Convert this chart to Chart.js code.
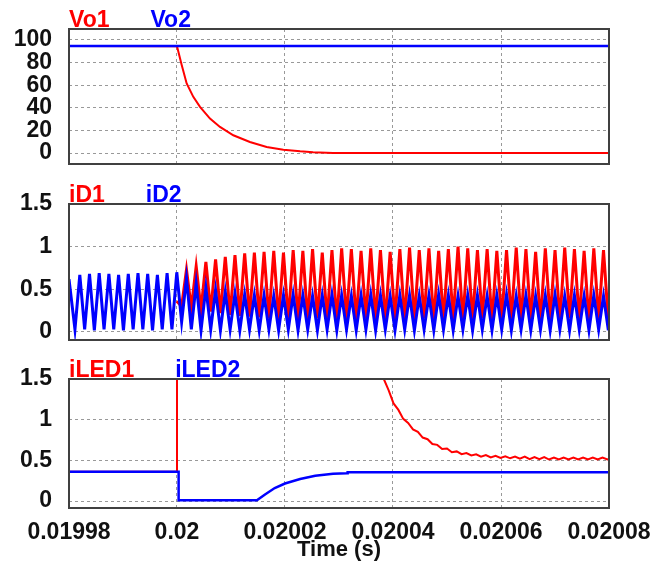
<!DOCTYPE html>
<html>
<head>
<meta charset="utf-8">
<script src="https://cdn.jsdelivr.net/npm/chart.js@4.4.1/dist/chart.umd.min.js"></script>
<style>
  html, body { margin: 0; padding: 0; background: #fff; }
  #wrap { position: relative; width: 670px; height: 562px; }
  #wrap canvas { position: absolute; left: 0; }
</style>
</head>
<body>
<div id="wrap">
  <canvas id="cVo" width="670" height="175" style="top:0"></canvas>
  <canvas id="cD" width="670" height="175" style="top:175px"></canvas>
  <canvas id="cLed" width="670" height="212" style="top:350px"></canvas>
</div>
<script>
// ---- axes ----
const timeTicks = [0.01998, 0.02, 0.02002, 0.02004, 0.02006, 0.02008];
const timeTickLabels = ['0.01998', '0.02', '0.02002', '0.02004', '0.02006', '0.02008'];
const voTicks = [0, 20, 40, 60, 80, 100];
const currentTicks = [0, 0.5, 1, 1.5];

// ---- Vo1 / Vo2 ----
const vo1Time = [0.01998, 0.02, 0.02000087, 0.02000179, 0.02000302, 0.02000426, 0.02000611, 0.02000796,
  0.02001043, 0.0200135, 0.0200166, 0.0200197, 0.0200228, 0.0200252, 0.0200289, 0.02008];
const vo1Value = [94.7, 94.5, 77.8, 61.5, 49.7, 40.8, 30.5, 23.1, 15.7, 9.8, 5.3, 3.0, 1.5, 0.6, 0, 0];
const vo2Time = [0.01998, 0.02008];
const vo2Value = [94.7, 94.7];

// ---- iD1 / iD2 : one peak and one trough per switching cycle ----
const dFirstPeak = 0.019982;
const dPeriod = 1.796e-6;
const iD2Start = 0.62;
const iD2Peaks = [0.67, 0.68, 0.69, 0.68, 0.67, 0.68, 0.69, 0.68, 0.67, 0.69,
  0.70,
  0.63, 0.57, 0.52, 0.49, 0.47, 0.45, 0.44, 0.43,
  0.43, 0.42, 0.43, 0.44, 0.43, 0.42, 0.43, 0.44, 0.43, 0.42, 0.43, 0.44,
  0.43, 0.42, 0.43, 0.43, 0.42, 0.43, 0.44, 0.43, 0.42, 0.43, 0.43, 0.42,
  0.43, 0.44, 0.42, 0.43, 0.42, 0.43, 0.44, 0.42, 0.43, 0.42, 0.43, 0.42];
const iD2Troughs = [0.03, 0.02, 0.03, 0.03, 0.02, 0.03, 0.03, 0.02, 0.03, 0.03,
  0.12,
  0.03, 0.02, 0.03, 0.02, 0.03, 0.02, 0.03, 0.02,
  0.03, 0.02, 0.03, 0.02, 0.03, 0.02, 0.03, 0.02, 0.03, 0.02, 0.03, 0.02,
  0.03, 0.02, 0.03, 0.02, 0.03, 0.02, 0.03, 0.02, 0.03, 0.02, 0.03, 0.02,
  0.03, 0.02, 0.03, 0.02, 0.03, 0.02, 0.03, 0.02, 0.03, 0.02, 0.03, 0.02];
const iD1Peaks = [null, null, null, null, null, null, null, null, null, null,
  0.36,
  0.73, 0.77, 0.82, 0.85, 0.88, 0.90, 0.92, 0.93, 0.94, 0.95,
  0.93, 0.96, 0.95, 0.97, 0.93, 0.96, 0.98, 0.97, 0.95, 0.98,
  0.96, 0.94, 0.97, 0.99, 0.96, 0.98, 0.95, 0.97, 1.00, 0.98,
  0.96, 0.97, 0.95, 0.96, 0.99, 0.97, 0.94, 0.98, 0.96, 0.99,
  0.97, 0.95, 0.98, 0.96];
const iD1Troughs = [null, null, null, null, null, null, null, null, null, null,
  0.30,
  0.28, 0.26, 0.24, 0.22, 0.20, 0.19, 0.18, 0.17, 0.16, 0.15,
  0.14, 0.15, 0.13, 0.16, 0.14, 0.12, 0.15, 0.13, 0.16, 0.14,
  0.12, 0.15, 0.13, 0.14, 0.16, 0.12, 0.14, 0.15, 0.13, 0.14,
  0.16, 0.12, 0.14, 0.15, 0.13, 0.14, 0.12, 0.15, 0.13, 0.16,
  0.14, 0.12, 0.15, 0.13];

// ---- iLED1 / iLED2 ----
const iLed1Time = [0.01998, 0.02, 0.02, 0.02003,
  0.0200383, 0.0200392, 0.0200401, 0.020041, 0.0200419, 0.0200428, 0.0200437, 0.0200446,
  0.0200455, 0.0200464, 0.0200473, 0.0200482, 0.0200491, 0.02005, 0.0200509, 0.0200518,
  0.0200527, 0.0200536, 0.0200545, 0.0200554, 0.0200563, 0.0200572, 0.0200581, 0.020059,
  0.0200599, 0.0200608, 0.0200617, 0.0200626, 0.0200635, 0.0200644, 0.0200653, 0.0200662,
  0.0200671, 0.020068, 0.0200689, 0.0200698, 0.0200707, 0.0200716, 0.0200725, 0.0200734,
  0.0200743, 0.0200752, 0.0200761, 0.020077, 0.0200779, 0.0200788, 0.0200797, 0.0200806];
const iLed1Value = [0.36, 0.36, 3.0, 2.6,
  1.50, 1.36, 1.20, 1.12, 1.01, 0.96, 0.88, 0.85,
  0.78, 0.76, 0.70, 0.69, 0.64, 0.645, 0.60, 0.61,
  0.575, 0.59, 0.56, 0.575, 0.545, 0.565, 0.535, 0.555,
  0.53, 0.55, 0.525, 0.545, 0.52, 0.545, 0.515, 0.54,
  0.515, 0.54, 0.51, 0.535, 0.51, 0.535, 0.51, 0.535,
  0.51, 0.535, 0.51, 0.535, 0.51, 0.535, 0.51, 0.53];
const iLed2Time = [0.01998, 0.0200003, 0.0200003, 0.0200148, 0.0200163, 0.0200181, 0.02002,
  0.0200228, 0.0200256, 0.0200289, 0.0200315, 0.0200316, 0.02008];
const iLed2Value = [0.36, 0.36, 0.01, 0.01, 0.08, 0.16, 0.215, 0.27, 0.31, 0.335, 0.34, 0.355, 0.355];

const RED = '#ff0000';
const BLUE = '#0000ff';
const FONT = '"Liberation Sans", Arial, sans-serif';

function pairs(xs, ys) {
  return xs.map((x, i) => ({ x: x, y: ys[i] }));
}

// peak / trough per cycle -> points along time
function cycles(peaks, troughs) {
  const pts = [];
  peaks.forEach((p, k) => {
    const t = dFirstPeak + k * dPeriod;
    if (p !== null) pts.push({ x: t, y: p });
    if (troughs[k] !== null) pts.push({ x: t + dPeriod / 2, y: troughs[k] });
  });
  return pts;
}

const iD2Points = [{ x: 0.01998, y: iD2Start }, { x: dFirstPeak - dPeriod / 2, y: iD2Troughs[0] }]
  .concat(cycles(iD2Peaks, iD2Troughs));
const iD1Points = cycles(iD1Peaks, iD1Troughs);

// frame round the plot area
const framePlugin = {
  id: 'frame',
  afterDatasetsDraw(chart) {
    const { ctx, chartArea: a } = chart;
    ctx.save();
    ctx.strokeStyle = '#404040';
    ctx.lineWidth = 2;
    ctx.strokeRect(a.left, a.top, a.right - a.left, a.bottom - a.top);
    ctx.restore();
  }
};

// coloured series names above the plot
const seriesNamePlugin = {
  id: 'seriesNames',
  afterDraw(chart) {
    const { ctx, chartArea } = chart;
    ctx.save();
    ctx.font = 'bold 23px ' + FONT;
    ctx.textBaseline = 'alphabetic';
    let x = chartArea.left;
    chart.data.datasets.forEach(ds => {
      ctx.fillStyle = ds.borderColor;
      ctx.fillText(ds.label, x, chartArea.top - 2);
      x += ctx.measureText(ds.label).width + 41;
    });
    ctx.restore();
  }
};

function line(label, color, data, order, width) {
  return {
    label: label, data: data, borderColor: color, backgroundColor: color,
    borderWidth: width || 2, pointRadius: 0, tension: 0, fill: false, order: order
  };
}

function makePanel(id, datasets, yMin, yMax, yTicks, bottomPad, showTime) {
  new Chart(document.getElementById(id), {
    type: 'line',
    data: { datasets: datasets },
    plugins: [framePlugin, seriesNamePlugin],
    options: {
      responsive: false,
      animation: false,
      events: [],
      layout: { padding: { top: 29, right: 61, bottom: bottomPad, left: 0 } },
      plugins: { legend: { display: false }, tooltip: { enabled: false } },
      scales: {
        x: {
          type: 'linear', min: 0.01998, max: 0.02008,
          afterBuildTicks: s => { s.ticks = timeTicks.map(v => ({ value: v })); },
          afterFit: s => {
            s.height = showTime ? 54 : 0;
            s.paddingLeft = 0; s.paddingRight = 0;
          },
          grid: { color: '#999999', lineWidth: 1, drawTicks: false },
          border: { display: false, dash: [3, 3] },
          ticks: {
            display: showTime, padding: 11, color: '#111', autoSkip: false, maxRotation: 0,
            font: { family: FONT, size: 23, weight: 'bold' },
            callback: (v, i) => timeTickLabels[i]
          },
          title: {
            display: showTime, text: 'Time (s)', color: '#111', padding: { top: 0, bottom: -1 },
            font: { family: FONT, size: 22, weight: 'bold' }
          }
        },
        y: {
          min: yMin, max: yMax,
          afterBuildTicks: s => { s.ticks = yTicks.map(v => ({ value: v })); },
          afterFit: s => {
            s.width = 69;
            s.paddingTop = 0; s.paddingBottom = 0;
          },
          grid: { color: '#999999', lineWidth: 1, drawTicks: false },
          border: { display: false, dash: [3, 3] },
          ticks: {
            padding: 17, color: '#111', autoSkip: false,
            font: { family: FONT, size: 23, weight: 'bold' },
            callback: v => String(v)
          }
        }
      }
    }
  });
}

makePanel('cVo', [
  line('Vo1', RED, pairs(vo1Time, vo1Value), 1),
  line('Vo2', BLUE, pairs(vo2Time, vo2Value), 0, 2.5)
], -9.7, 109.7, voTicks, 11, false);

makePanel('cD', [
  line('iD1', RED, iD1Points, 1, 3),
  line('iD2', BLUE, iD2Points, 0, 3)
], -0.094, 1.5, currentTicks, 10, false);

makePanel('cLed', [
  line('iLED1', RED, pairs(iLed1Time, iLed1Value), 1),
  line('iLED2', BLUE, pairs(iLed2Time, iLed2Value), 0, 2.5)
], -0.086, 1.5, currentTicks, 0, true);
</script>
</body>
</html>
